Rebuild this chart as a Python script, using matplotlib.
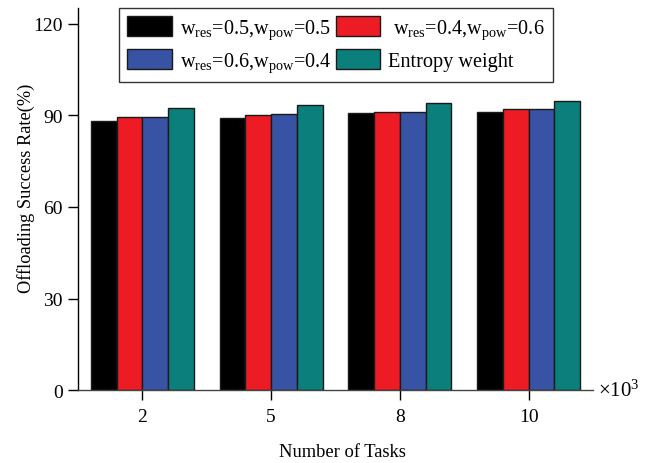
import numpy as np
import matplotlib
matplotlib.use('Agg')
from matplotlib import pyplot as plt

plt.rcParams['font.family'] = ['Liberation Serif', 'DejaVu Serif']
plt.rcParams['mathtext.fontset'] = 'custom'
plt.rcParams['mathtext.rm'] = 'Liberation Serif'
plt.rcParams['mathtext.it'] = 'Liberation Serif:italic'

# task counts (x10^3) and success rates per weighting scheme
tasks = ['2', '5', '8', '10']
w_55 = [88.1, 89.0, 90.6, 91.2]
w_46 = [89.4, 90.0, 90.9, 91.9]
w_64 = [89.3, 90.3, 91.2, 91.9]
entropy = [92.2, 93.4, 94.0, 94.8]

labels = [r'w$_{\rm res}$=0.5,w$_{\rm pow}$=0.5',
          r' w$_{\rm res}$=0.4,w$_{\rm pow}$=0.6',
          r'w$_{\rm res}$=0.6,w$_{\rm pow}$=0.4',
          'Entropy weight']
colors = ['#000000', '#ED1C24', '#3953A4', '#0B7F7B']


def main():
  fig = plt.figure(figsize=(6.51, 4.64), dpi=100)
  ax = fig.add_axes([0.1198, 0.157, 0.791, 0.823])

  x = np.arange(len(tasks))
  width = 0.2
  series = [w_55, w_46, w_64, entropy]
  bars = []
  for i, (vals, lab, col) in enumerate(zip(series, labels, colors)):
    b = ax.bar(x + (i - 1.5) * width, vals, width, color=col, edgecolor='#1a1a1a',
               linewidth=1.0, label=lab, zorder=2)
    bars.append(b)

  ax.set_xlim(-0.5, 3.5)
  ax.set_ylim(0, 125)
  ax.set_yticks([0, 30, 60, 90, 120])
  ax.set_xticks(x)
  ax.set_xticklabels(tasks)
  ax.spines['top'].set_visible(False)
  ax.spines['right'].set_visible(False)
  ax.spines['left'].set_linewidth(1.0)
  ax.spines['bottom'].set_linewidth(1.0)
  ax.spines['bottom'].set_color('#444444')
  ax.tick_params(axis='both', direction='out', length=7, width=1.0, labelsize=14, pad=4)
  ax.tick_params(axis='x', pad=6)

  # axis titles placed in figure coords
  fig.text(342 / 651, 1 - 453 / 464, 'Number of Tasks', fontsize=13.3,
           ha='center', va='center')
  fig.text(26 / 651, 1 - 188 / 464, 'Offloading Success Rate(%)', fontsize=13.2,
           rotation=90, ha='center', va='center')
  ax.text(1.01, 0.0, r'$\times10^3$', transform=ax.transAxes, fontsize=15,
          ha='left', va='center')

  # row-wise legend order: black, red / blue, teal
  order = [0, 2, 1, 3]
  leg = ax.legend([bars[i] for i in order], [labels[i] for i in order],
                  ncol=2, loc='upper center', bbox_to_anchor=(0.501, 1.0),
                  fontsize=14.6, frameon=True, fancybox=False, edgecolor='black',
                  handlelength=2.2, handleheight=1.13, handletextpad=0.4,
                  columnspacing=0.2, borderpad=0.4, labelspacing=0.4,
                  borderaxespad=0.0)
  leg.get_frame().set_linewidth(1.0)

  fig.savefig('out.png', dpi=100)


if __name__ == "__main__":
  main()
